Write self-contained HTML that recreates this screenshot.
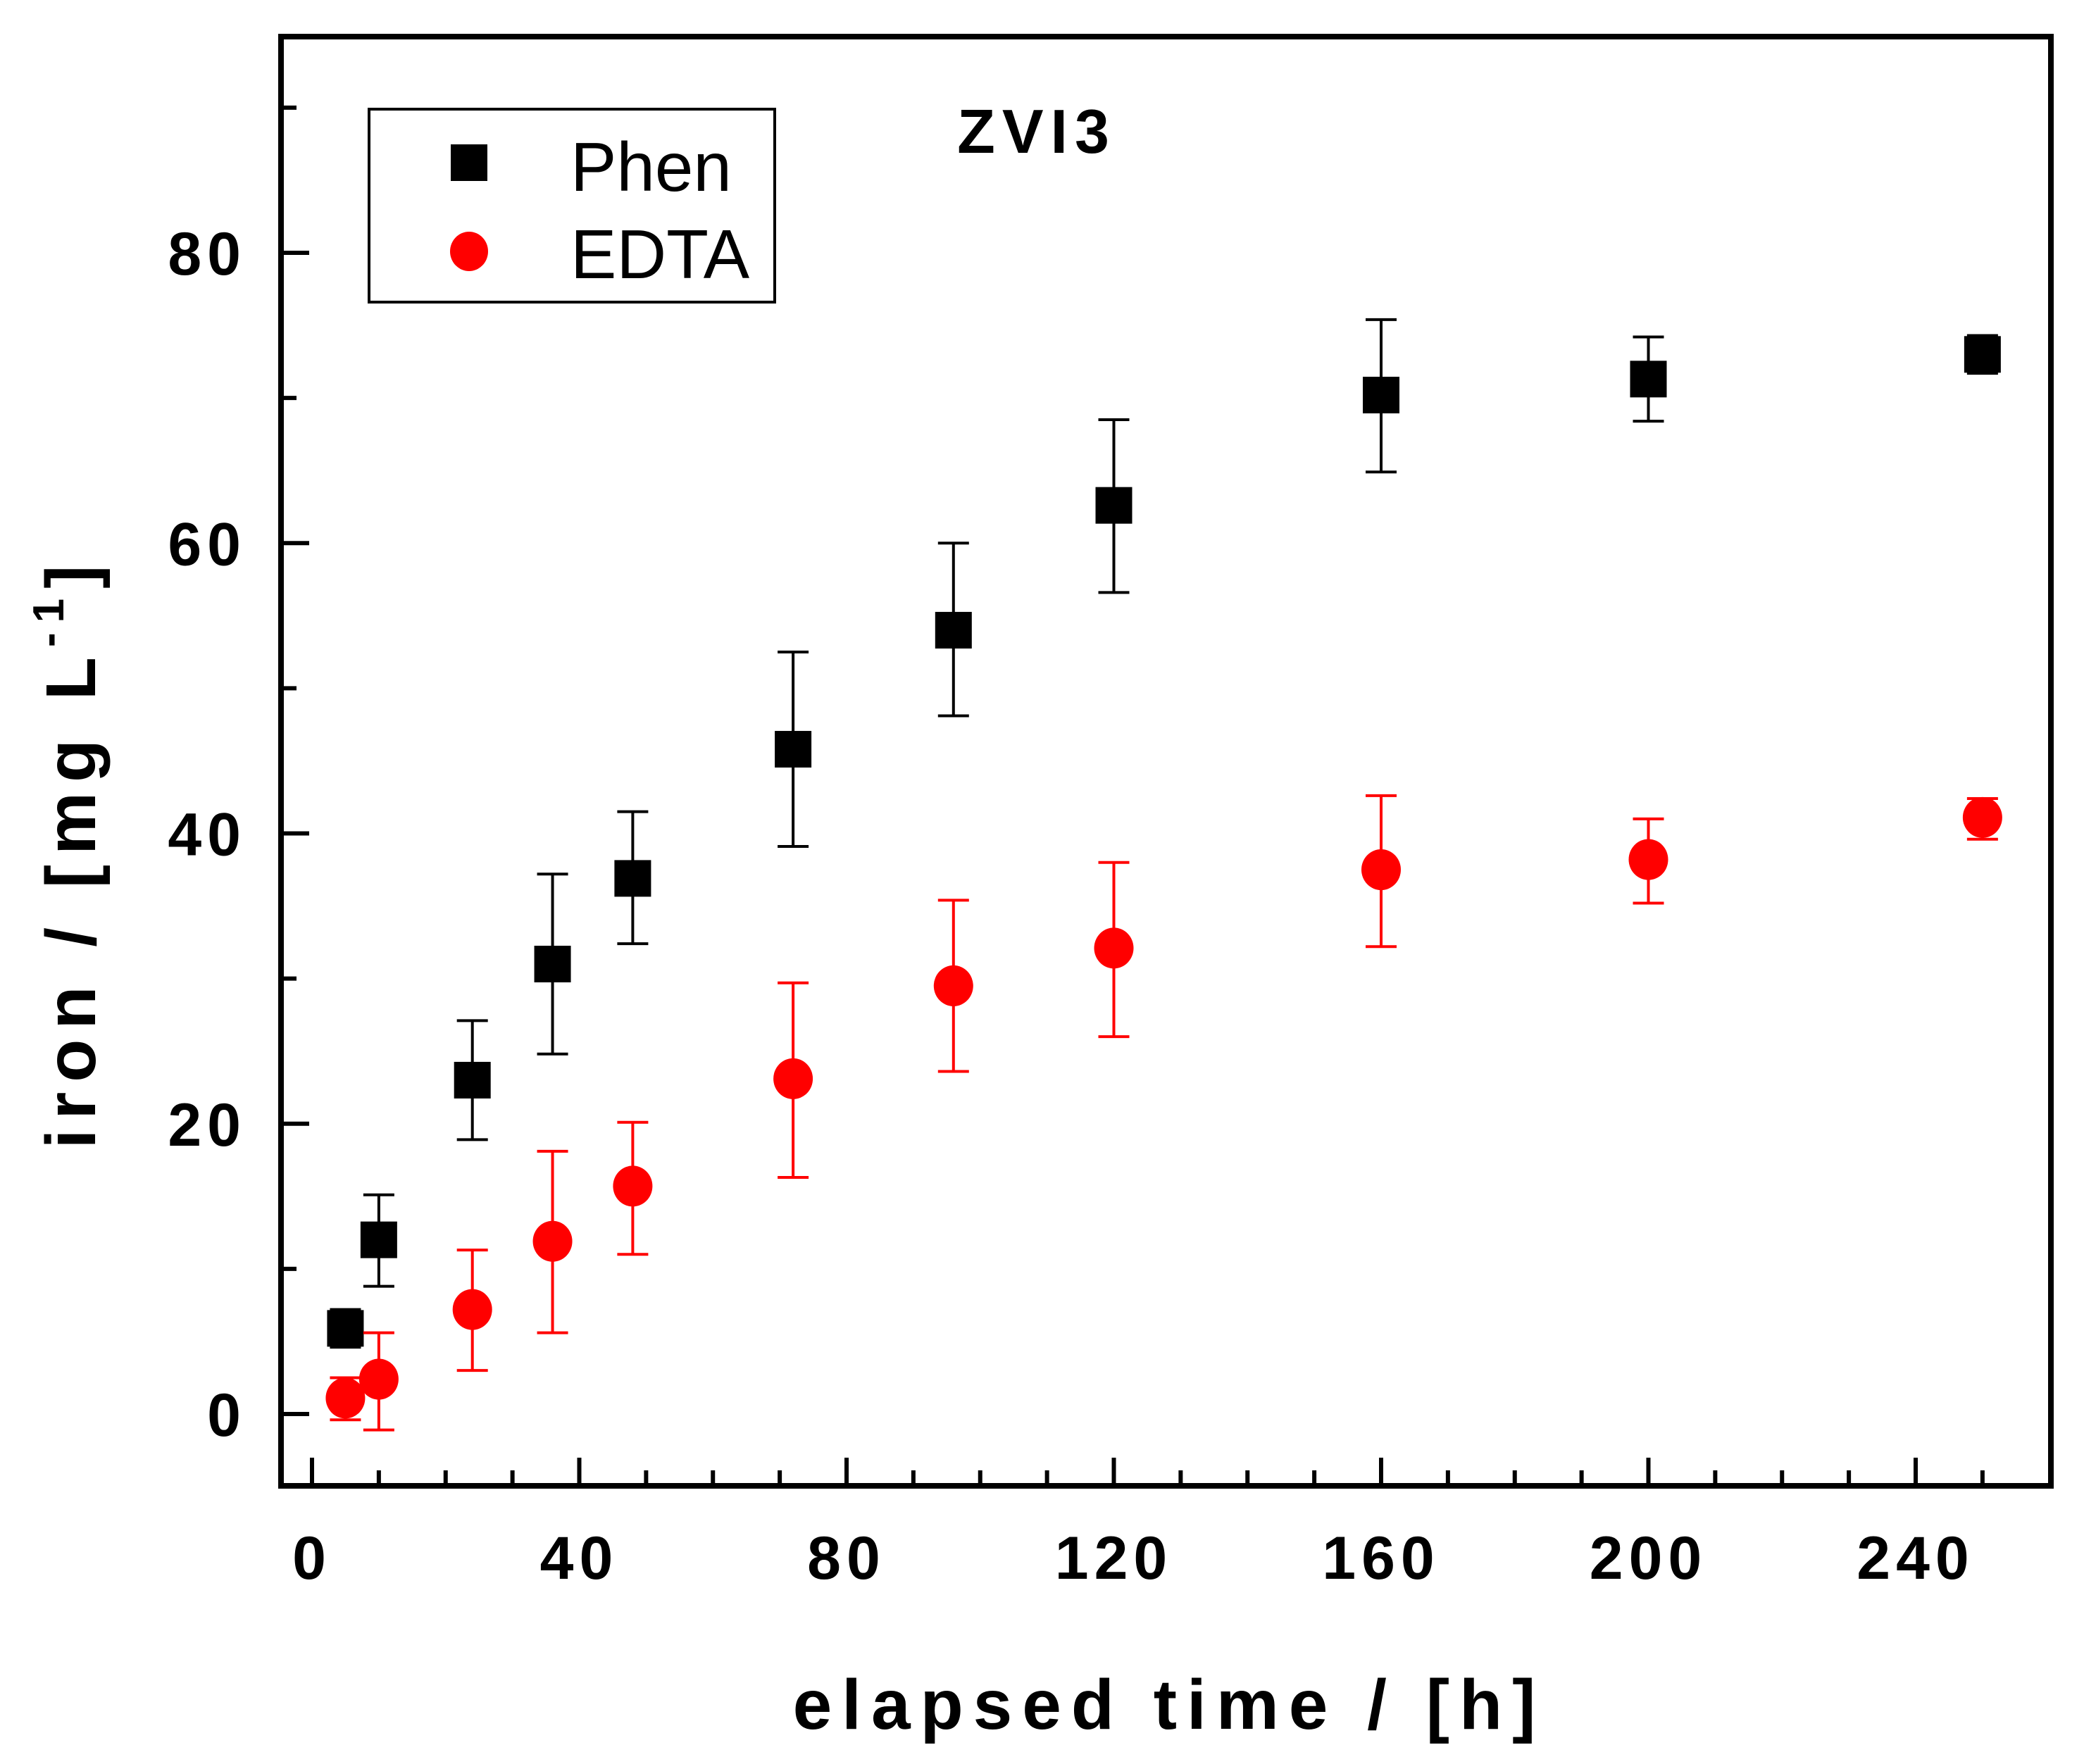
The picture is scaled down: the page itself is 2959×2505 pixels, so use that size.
<!DOCTYPE html>
<html><head><meta charset="utf-8"><style>
html,body{margin:0;padding:0;background:#fff;}
svg{display:block;font-family:"Liberation Sans",Arial,sans-serif;}
</style></head><body>
<svg id="chart" width="2959" height="2505" viewBox="0 0 2959 2505">
<g id="ticks"></g>
<g id="marks"></g>
<rect x="399" y="52" width="2513" height="2058" fill="none" stroke="#000" stroke-width="8"/>
<g>
<rect x="524" y="155" width="576" height="274" fill="none" stroke="#000" stroke-width="4"/>
<rect x="640" y="205" width="52" height="52" fill="#000"/>
<text x="810" y="271" font-size="98">Phen</text>
<ellipse cx="666" cy="357" rx="27" ry="28" fill="#ff0000"/>
<text x="810" y="395" font-size="98">EDTA</text>
</g>
<text x="1472" y="217" font-size="88" font-weight="bold" letter-spacing="10" text-anchor="middle">ZVI3</text>
<text x="1660" y="2455" font-size="100" font-weight="bold" letter-spacing="14" text-anchor="middle">elapsed time / [h]</text>
<text transform="translate(135,1210) rotate(-90)" font-size="100" font-weight="bold" letter-spacing="14" text-anchor="middle">iron / [mg L<tspan dy="-45" font-size="62">-1</tspan><tspan dy="45">]</tspan></text>
</svg>
<script>
const xCats = [5, 10, 24, 36, 48, 72, 96, 120, 160, 200, 250];
const phenVals = [5.9, 12.0, 23.0, 31.0, 36.9, 45.8, 54.0, 62.6, 70.2, 71.3, 73.0];
const phenLow  = [4.6, 8.8, 18.9, 24.8, 32.4, 39.1, 48.1, 56.6, 64.9, 68.4, 71.7];
const phenHigh = [7.2, 15.1, 27.1, 37.2, 41.5, 52.5, 60.0, 68.5, 75.4, 74.2, 74.3];
const edtaVals = [1.1, 2.4, 7.2, 11.9, 15.7, 23.1, 29.5, 32.1, 37.5, 38.2, 41.1];
const edtaLow  = [-0.4, -1.1, 3.0, 5.6, 11.0, 16.3, 23.6, 26.0, 32.2, 35.2, 39.6];
const edtaHigh = [2.5, 5.6, 11.3, 18.1, 20.1, 29.7, 35.4, 38.0, 42.6, 41.0, 42.4];
const xTickLabels = [0, 40, 80, 120, 160, 200, 240];
const yTickLabels = [0, 20, 40, 60, 80];

const NS = "http://www.w3.org/2000/svg";
function X(v){ return 443 + v * (2720 - 443) / 240; }
function Y(v){ return 2008 - v * (2008 - 359) / 80; }
function mk(tag, attrs, parent){ const e = document.createElementNS(NS, tag); for (const k in attrs) e.setAttribute(k, attrs[k]); parent.appendChild(e); return e; }

const ticks = document.getElementById('ticks');
for (let v = 0; v <= 250; v += 10) {
  const major = v % 40 === 0;
  const t = mk('line', {x1: X(v), x2: X(v), y1: 2110, y2: 2110 - (major ? 40 : 22), stroke: '#000', 'stroke-width': 6}, ticks);
  
  
}
for (let v = 0; v <= 90; v += 10) {
  const major = v % 20 === 0;
  const t = mk('line', {x1: 399, x2: 399 + (major ? 40 : 22), y1: Y(v), y2: Y(v), stroke: '#000', 'stroke-width': 6}, ticks);
  
  
}
xTickLabels.forEach(v => {
  const t = mk('text', {x: X(v), y: 2242, 'font-size': 86, 'font-weight': 'bold', 'letter-spacing': 8, 'text-anchor': 'middle'}, ticks);
  t.textContent = v;
  
  
});
yTickLabels.forEach(v => {
  const t = mk('text', {x: 350, y: Y(v) + 31, 'font-size': 86, 'font-weight': 'bold', 'letter-spacing': 8, 'text-anchor': 'end'}, ticks);
  t.textContent = v;
  
  
});

const marks = document.getElementById('marks');
function series(vals, lo, hi, color, shape, name) {
  xCats.forEach((x, i) => {
    const cx = X(x);
    const g = mk('g', {stroke: color, 'stroke-width': 4}, marks);
    
    
    mk('line', {x1: cx, x2: cx, y1: Y(lo[i]), y2: Y(hi[i])}, g);
    mk('line', {x1: cx - 22, x2: cx + 22, y1: Y(lo[i]), y2: Y(lo[i])}, g);
    mk('line', {x1: cx - 22, x2: cx + 22, y1: Y(hi[i]), y2: Y(hi[i])}, g);
    let m;
    if (shape === 'square') m = mk('rect', {x: cx - 26, y: Y(vals[i]) - 26, width: 52, height: 52, fill: color}, marks);
    else m = mk('ellipse', {cx: cx, cy: Y(vals[i]), rx: 28, ry: 29, fill: color}, marks);
    
    
  });
}
series(phenVals, phenLow, phenHigh, '#000', 'square', 'phen');
series(edtaVals, edtaLow, edtaHigh, '#ff0000', 'circle', 'edta');
</script>
</body></html>
